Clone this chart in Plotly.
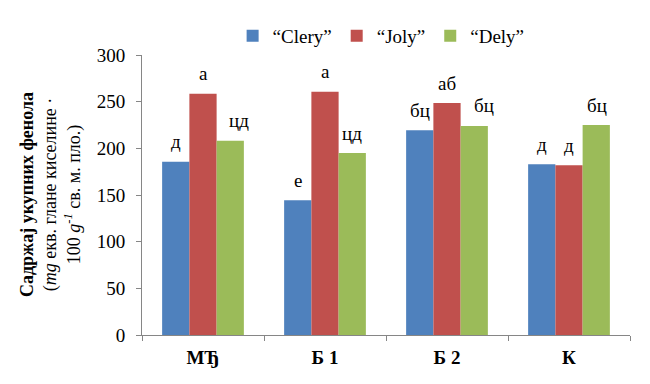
import plotly.graph_objects as go

categories = ["МЂ", "Б 1", "Б 2", "К"]
series_names = ["“Clery”", "“Joly”", "“Dely”"]
clery = [185.5, 144.5, 219.5, 183.0]
joly = [258.5, 260.5, 248.5, 182.0]
dely = [208.0, 195.0, 224.0, 225.0]
labels_clery = ["д", "е", "бц", "д"]
labels_joly = ["а", "а", "аб", "д"]
labels_dely = ["цд", "цд", "бц", "бц"]
y_ticks = [0, 50, 100, 150, 200, 250, 300]

colors = ["#4F81BD", "#C0504D", "#9BBB59"]
FONT = "Liberation Serif"

values = [clery, joly, dely]
labels = [labels_clery, labels_joly, labels_dely]

fig = go.Figure()
for name, vals, col in zip(series_names, values, colors):
    fig.add_trace(go.Bar(x=categories, y=vals, name=name, marker_color=col,
                         marker_line_width=0))

# geometry (page body has an 8px margin)
W, H = 642, 376
ml, mt = 134, 47
plot_w, plot_h = 488, 280
mr = W - ml - plot_w
mb = H - mt - plot_h
bargap = 0.33
cat_w = plot_w / len(categories)
bar_w = cat_w * (1 - bargap) / 3
extra_dx = [[0, 0, 0, 0], [0, 0, 0, 0], [9, 0, 10, 1]]

annotations = []
for i, (vals, labs) in enumerate(zip(values, labels)):
    for j, (c, v, t) in enumerate(zip(categories, vals, labs)):
        annotations.append(dict(x=c, y=v, text=t, showarrow=False,
                                xshift=(i - 1) * bar_w + extra_dx[i][j], yshift=20,
                                yanchor="middle",
                                font=dict(family=FONT, size=19, color="black")))

annotations.append(dict(
    x=-91 / plot_w, y=0.5, xref="paper", yref="paper", showarrow=False,
    textangle=-90, xanchor="center", yanchor="middle",
    text=("<b>Садржај укупних фенола</b><br>"
          "(<i>mg</i> екв. глане киселине ·<br>"
          "100 <i>g</i><sup><i>-1</i></sup> св. м. пло.)"),
    font=dict(family=FONT, size=18, color="black")))

fig.update_layout(
    width=W, height=H,
    margin=dict(l=ml, r=mr, t=mt, b=mb, autoexpand=False),
    paper_bgcolor="white", plot_bgcolor="white",
    barmode="group", bargap=bargap, bargroupgap=0,
    font=dict(family=FONT, size=19, color="black"),
    showlegend=True,
    legend=dict(orientation="h", x=0.49, xanchor="center",
                y=(H - mb - 28) / plot_h, yanchor="middle",
                font=dict(family=FONT, size=19, color="black"),
                traceorder="normal", bgcolor="rgba(0,0,0,0)"),
    annotations=annotations,
)
fig.update_xaxes(
    type="category", tickson="boundaries", ticks="outside", ticklen=5,
    tickcolor="#868686", showline=True, linecolor="#868686", linewidth=1,
    showgrid=False, tickvals=categories,
    ticktext=["<b>" + c + "</b>" for c in categories],
    tickfont=dict(family=FONT, size=19, color="black"), ticklabelstandoff=5,
)
fig.update_yaxes(
    range=[0, 300], tickvals=y_ticks, ticks="outside", ticklen=5,
    tickcolor="#868686", showline=True, linecolor="#868686", linewidth=1,
    showgrid=False, zeroline=False,
    tickfont=dict(family=FONT, size=19, color="black"), ticklabelstandoff=7,
)
fig.write_html("out.html")
